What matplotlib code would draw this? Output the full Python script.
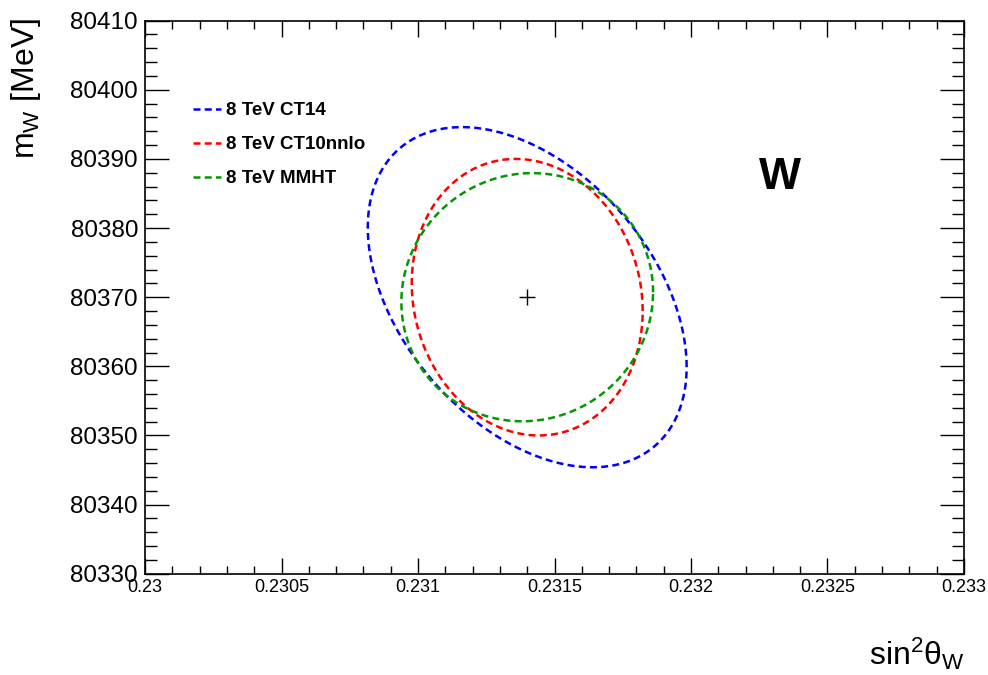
import numpy as np
import matplotlib
matplotlib.use("Agg")
import matplotlib.pyplot as plt
from matplotlib.ticker import MultipleLocator, FormatStrFormatter

# central fit point
sin2_central = 0.2314
mw_central = 80370.0

# 68% contours: half extents and correlation
pdf_labels = ["8 TeV CT14", "8 TeV CT10nnlo", "8 TeV MMHT"]
pdf_colors = ["#0000ff", "#ff0000", "#009900"]
sigma_sin2 = [0.000584, 0.000423, 0.000461]
sigma_mw = [24.6, 20.0, 17.95]
rho = [-0.41, -0.10, 0.04]

plt.rcParams["font.family"] = ["Liberation Sans", "DejaVu Sans"]
plt.rcParams["mathtext.fontset"] = "custom"
plt.rcParams["mathtext.rm"] = "Liberation Sans"
plt.rcParams["mathtext.it"] = "Liberation Sans"

fig = plt.figure(figsize=(9.88, 6.75), dpi=100)
ax = fig.add_axes([0.1468, 0.1500, 0.8289, 0.8194])

t = np.linspace(0, 2 * np.pi, 500)
for lab, col, sx, sy, r in zip(pdf_labels, pdf_colors, sigma_sin2, sigma_mw, rho):
    x = sin2_central + sx * np.cos(t)
    y = mw_central + sy * (r * np.cos(t) + np.sqrt(1 - r ** 2) * np.sin(t))
    ax.plot(x, y, color=col, lw=1.8, dashes=(2.8, 1.7), label=lab)

ax.plot([sin2_central], [mw_central], marker="+", color="black",
        markersize=11, mew=1.0, ls="none")

ax.set_xlim(0.23, 0.233)
ax.set_ylim(80330, 80410)

ax.xaxis.set_major_locator(MultipleLocator(0.0005))
ax.xaxis.set_minor_locator(MultipleLocator(0.0001))
ax.yaxis.set_major_locator(MultipleLocator(10))
ax.yaxis.set_minor_locator(MultipleLocator(2))
ax.xaxis.set_major_formatter(matplotlib.ticker.FuncFormatter(
    lambda v, p: ("%.4f" % v).rstrip("0").rstrip(".")))
ax.yaxis.set_major_formatter(FormatStrFormatter("%d"))

ax.tick_params(axis="both", which="both", direction="in", top=True, right=True, width=1.0)
ax.tick_params(axis="x", which="major", length=11.5, labelsize=13, pad=4)
ax.tick_params(axis="x", which="minor", length=5.8)
ax.tick_params(axis="y", which="major", length=17, labelsize=17.5, pad=5)
ax.tick_params(axis="y", which="minor", length=8.6)
for sp in ax.spines.values():
    sp.set_linewidth(1.2)

ax.set_xlabel(r"sin$^{2}\theta_{W}$", fontsize=23, loc="right")
ax.xaxis.set_label_coords(1.0, -0.112)
ax.set_ylabel(r"m$_{W}$ [MeV]", fontsize=23, loc="top")
ax.yaxis.set_label_coords(-0.125, 1.005)

ax.text(0.775, 0.716, "W", transform=ax.transAxes, fontsize=32,
        fontweight="bold", ha="center", va="center")

leg = ax.legend(loc="upper left", bbox_to_anchor=(0.050, 0.866), frameon=False,
                prop={"weight": "bold", "size": 13.5}, handlelength=1.45,
                handletextpad=0.27, labelspacing=0.9, borderaxespad=0)

fig.savefig("out.png", dpi=100)
